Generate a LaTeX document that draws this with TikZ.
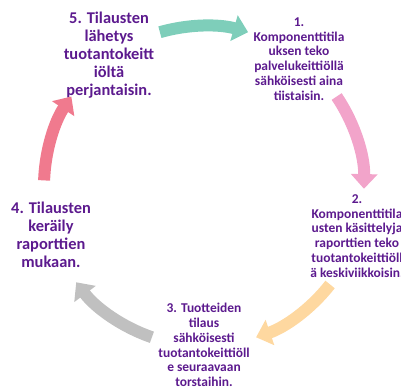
\documentclass[tikz,border=0pt]{standalone}
\usepackage{fontspec}
\setmainfont{Carlito}
\usetikzlibrary{arrows.meta}
\definecolor{txtpurple}{RGB}{92,26,142}
\definecolor{arrteal}{RGB}{126,206,186}
\definecolor{arrpink}{RGB}{242,164,202}
\definecolor{arrorange}{RGB}{254,216,160}
\definecolor{arrgray}{RGB}{192,192,192}
\definecolor{arrred}{RGB}{240,122,142}
\tikzset{
    cyclenode/.style = {align=center, text=txtpurple, font=\bfseries\fontsize{12.3}{13.5}\selectfont},
    cyclenodes/.style = {align=center, text=txtpurple, font=\bfseries\fontsize{10.1}{11.1}\selectfont},
    arrowbase/.style = {line width=9pt, -{Triangle[width=19.5pt,length=11pt]}},
    arrowt/.style = {arrowbase, arrteal},
    arrowp/.style = {arrowbase, arrpink},
    arrowo/.style = {arrowbase, arrorange},
    arrowg/.style = {arrowbase, arrgray},
    arrowr/.style = {arrowbase, arrred}
}
\begin{document}
\begin{tikzpicture}[x=0.75pt,y=0.75pt]
\useasboundingbox (0,0) rectangle (401,388);
%
\coordinate (cyc) at (204,202);
%
\node[cyclenode] at (109,333) (n5) {5. Tilausten\\lähetys\\tuotantokeitt\\iöltä\\perjantaisin.};
\node[cyclenodes] at (299,329) (n1) {1.\\Komponenttitila\\uksen teko\\palvelukeittiöllä\\sähköisesti aina\\tiistaisin.};
\node[cyclenodes] at (357,152) (n2) {2.\\Komponenttitila\\usten käsittelyja\\raporttien teko\\tuotantokeittiöll\\ä keskiviikkoisin.};
\node[cyclenodes] at (204,43) (n3) {3. Tuotteiden\\tilaus\\sähköisesti\\tuotantokeittiöll\\e seuraavaan\\torstaihin.};
\node[cyclenode] at (51,153) (n4) {4. Tilausten\\keräily\\raporttien\\mukaan.};
%
\draw[arrowt] (cyc) ++(106:160) arc[start angle=106, end angle=74, radius=160];
\draw[arrowp] (cyc) ++(34:160) arc[start angle=34, end angle=-1, radius=160];
\draw[arrowo] (cyc) ++(-38:160) arc[start angle=-38, end angle=-71, radius=160];
\draw[arrowg] (cyc) ++(-109:160) arc[start angle=-109, end angle=-143, radius=160];
\draw[arrowr] (cyc) ++(178:160) arc[start angle=178, end angle=146, radius=160];

\end{tikzpicture}
\end{document}
